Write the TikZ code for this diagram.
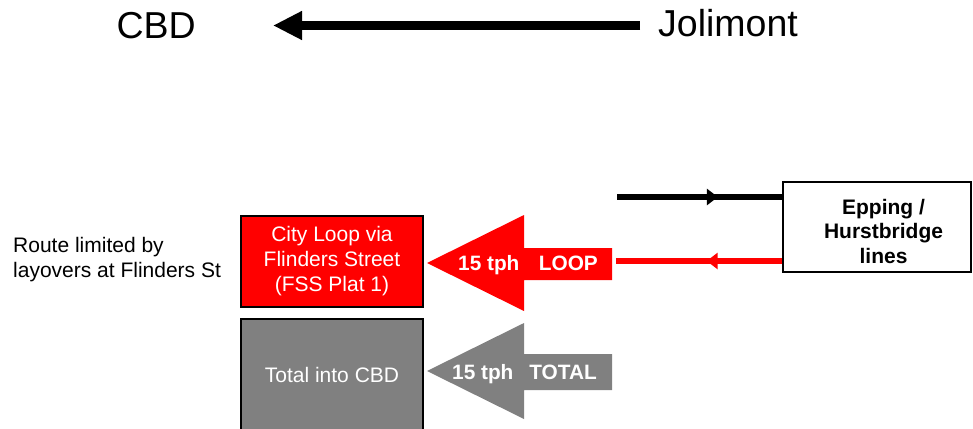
\documentclass[tikz,border=0pt]{standalone}
\usepackage{fontspec}
\setmainfont{Liberation Sans}
\usetikzlibrary{arrows.meta,decorations.markings}

\definecolor{loopred}{RGB}{255,0,0}
\definecolor{totalgrey}{RGB}{128,128,128}

\tikzset{
  bigtext/.style={font=\fontsize{37.5}{40}\selectfont, inner sep=0pt},
  notetext/.style={font=\fontsize{21}{25.5}\selectfont, align=left, inner sep=0pt},
  flowbox/.style={draw=black, line width=1.3pt, minimum width=182pt, text=white,
    font=\fontsize{21}{25}\selectfont, align=center},
  linebox/.style={draw=black, line width=1.3pt, fill=white, minimum width=188pt, minimum height=90pt},
  linetext/.style={font=\bfseries\fontsize{21}{24.5}\selectfont, align=center, inner sep=0pt},
  flowtext/.style={font=\bfseries\fontsize{20.8}{24}\selectfont, text=white, inner sep=0pt},
  track/.style={line width=6pt},
  midtip/.style={postaction={decorate}, decoration={markings,
    mark=at position #1 with {\arrow{Triangle[length=11pt,width=16pt]}}}}
}

\begin{document}
\begin{tikzpicture}[x=1pt,y=-1pt]
\useasboundingbox (0,0) rectangle (973,428);

% direction of travel
\node[bigtext, anchor=base east] (cbd) at (196,39) {CBD};
\node[bigtext, anchor=base west] (jolimont) at (658,37) {Jolimont};
\coordinate (dirstart) at (640,25.5);
\coordinate (dirend) at (273,25.5);
\draw[line width=9pt, -{Triangle[length=29pt,width=27pt]}] (dirstart) -- (dirend);

% note on the left
\node[notetext, anchor=north west] (note) at (13,237)
  {Route limited by\\layovers at Flinders St};

% destination boxes
\node[flowbox, fill=loopred, minimum height=91pt] (loopbox) at (332,261.5)
  {City Loop via\\Flinders Street\\(FSS Plat 1)};
\node[flowbox, fill=totalgrey, minimum height=112pt] (totalbox) at (332,375)
  {Total into CBD};

% line group box
\node[linebox] (epping) at (877,227) {};
\node[linetext] (eppingtxt) at (883.5,231) {Epping /\\Hurstbridge\\lines};

% tracks to and from the line group
\coordinate (upstart) at (617,197);
\coordinate (downend) at (616,261);
\draw[track, black, midtip=0.61] (upstart) -- (upstart -| epping.west);
\draw[track, loopred, midtip=0.455] (downend -| epping.west) -- (downend);

% service frequency arrows
\fill[loopred] (427,263) -- (524,215) -- (524,248) -- (612,248) -- (612,280)
  -- (524,280) -- (524,311) -- cycle;
\node[flowtext, anchor=base west] (looptph) at (458,270) {15 tph};
\node[flowtext, anchor=base east] (looplbl) at (598,270) {LOOP};

\fill[totalgrey] (427,371) -- (524,323) -- (524,354) -- (612,354) -- (612,390)
  -- (524,390) -- (524,419) -- cycle;
\node[flowtext, anchor=base west] (totaltph) at (452,379) {15 tph};
\node[flowtext, anchor=base east] (totallbl) at (597,379) {TOTAL};
\end{tikzpicture}
\end{document}
